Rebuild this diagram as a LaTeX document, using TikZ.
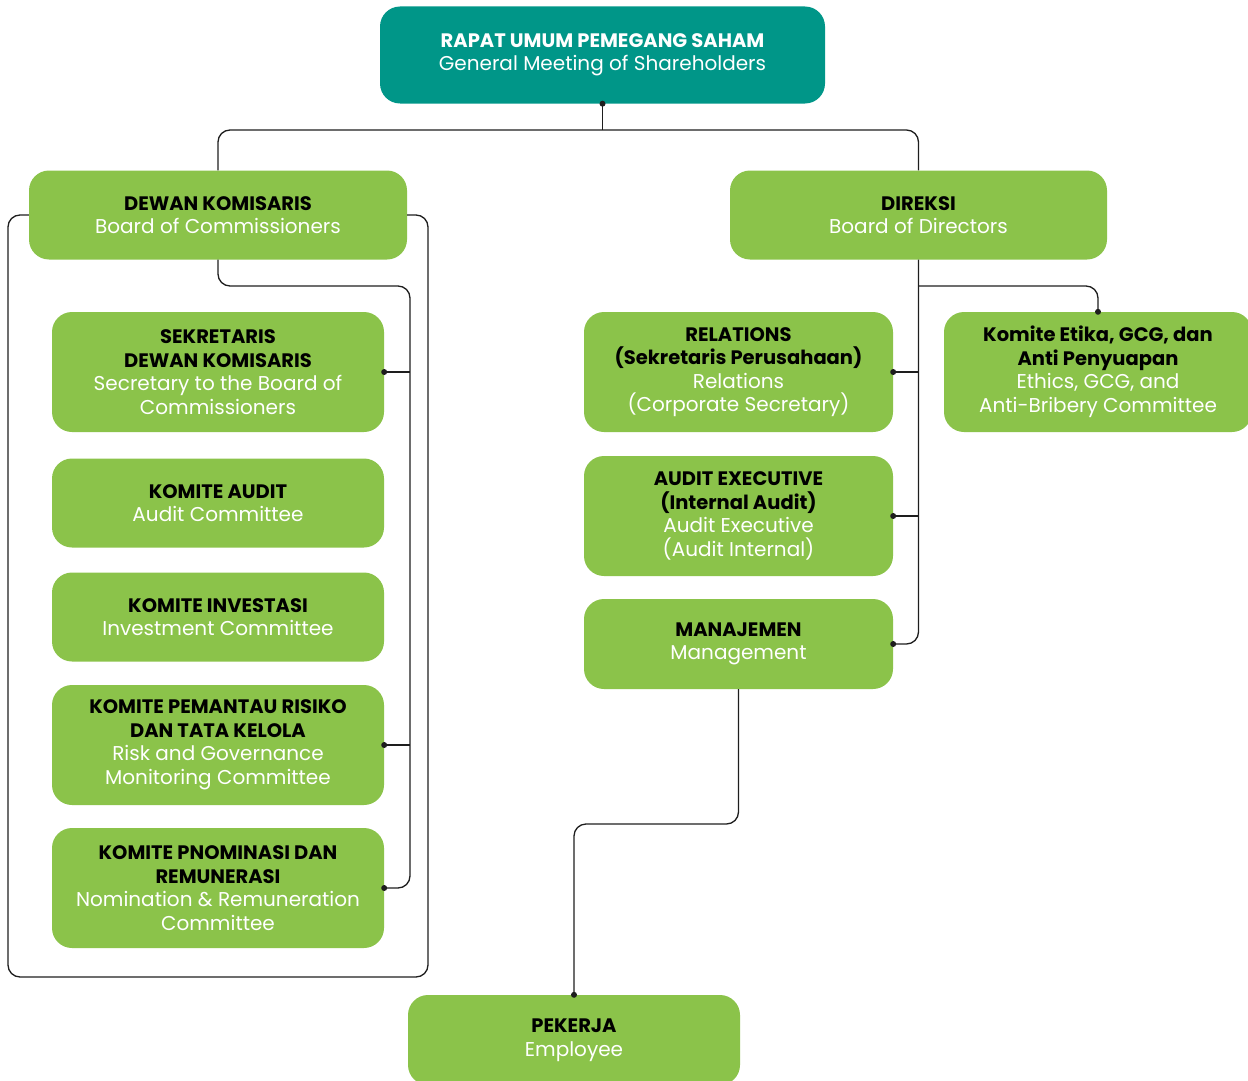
\documentclass[tikz,border=0pt]{standalone}
\usepackage{fontspec}
\setmainfont{Poppins}
\definecolor{boxgreen}{RGB}{139,195,74}
\definecolor{boxteal}{RGB}{0,150,136}
\definecolor{linecol}{RGB}{30,30,30}
\newcommand{\headt}[1]{{\fontsize{19.5}{23.5}\selectfont\bfseries\color{black}#1}}
\newcommand{\subt}[1]{{\color{white}#1}}
\begin{document}
\begin{tikzpicture}[x=1pt,y=-1pt,
  orgbox/.style={rectangle, rounded corners=20pt, fill=boxgreen, align=center, inner sep=0pt,
    font=\fontsize{20}{23.5}\selectfont},
  conn/.style={draw=linecol, line width=1.3pt, rounded corners=12pt},
  dotc/.style={circle, fill=linecol, inner sep=0pt, minimum size=6pt}]
\useasboundingbox (0,0) rectangle (1248,1081);
\clip (0,0) rectangle (1248,1081);

% nodes
\node[orgbox, fill=boxteal, minimum width=445pt, minimum height=97pt] (rups) at (602.5,55)
  {{\fontsize{19.5}{23.5}\selectfont\bfseries\color{white}RAPAT UMUM PEMEGANG SAHAM}\\\subt{General Meeting of Shareholders}};
\node[orgbox, minimum width=378pt, minimum height=89pt] (dk) at (218,215)
  {\headt{DEWAN KOMISARIS}\\\subt{Board of Commissioners}};
\node[orgbox, minimum width=377pt, minimum height=89pt] (dir) at (918.5,215)
  {\headt{DIREKSI}\\\subt{Board of Directors}};
\node[orgbox, minimum width=332pt, minimum height=120pt] (sek) at (218,372)
  {\headt{SEKRETARIS}\\\headt{DEWAN KOMISARIS}\\\subt{Secretary to the Board of}\\\subt{Commissioners}};
\node[orgbox, minimum width=332pt, minimum height=89pt] (aud) at (218,503)
  {\headt{KOMITE AUDIT}\\\subt{Audit Committee}};
\node[orgbox, minimum width=332pt, minimum height=89pt] (inv) at (218,617)
  {\headt{KOMITE INVESTASI}\\\subt{Investment Committee}};
\node[orgbox, minimum width=332pt, minimum height=120pt] (risk) at (218,745)
  {\headt{KOMITE PEMANTAU RISIKO}\\\headt{DAN TATA KELOLA}\\\subt{Risk and Governance}\\\subt{Monitoring Committee}};
\node[orgbox, minimum width=332pt, minimum height=120pt] (nom) at (218,888)
  {\headt{KOMITE PNOMINASI DAN}\\\headt{REMUNERASI}\\\subt{Nomination \& Remuneration}\\\subt{Committee}};
\node[orgbox, minimum width=309pt, minimum height=120pt] (rel) at (738.5,372)
  {\headt{RELATIONS}\\\headt{(Sekretaris Perusahaan)}\\\subt{Relations}\\\subt{(Corporate Secretary)}};
\node[orgbox, minimum width=308pt, minimum height=120pt] (eti) at (1098,372)
  {\headt{Komite Etika, GCG, dan}\\\headt{Anti Penyuapan}\\\subt{Ethics, GCG, and}\\\subt{Anti-Bribery Committee}};
\node[orgbox, minimum width=309pt, minimum height=120pt] (ae) at (738.5,516)
  {\headt{AUDIT EXECUTIVE}\\\headt{(Internal Audit)}\\\subt{Audit Executive}\\\subt{(Audit Internal)}};
\node[orgbox, minimum width=309pt, minimum height=90pt] (man) at (738.5,644)
  {\headt{MANAJEMEN}\\\subt{Management}};
\node[orgbox, minimum width=332pt, minimum height=90pt] (pek) at (574,1040)
  {\headt{PEKERJA}\\\subt{Employee}};

% connectors
\coordinate (top) at (602.5,130);
\draw[conn] (rups.south) -- (top);
\draw[conn] (dk.north) -- (dk.north |- top) -- (dir.north |- top) -- (dir.north);
\node[dotc] at (rups.south) {};

% outer loop around commissioners
\draw[conn] (dk.west) -- (8,215) -- (8,977) -- (428,977) -- (428,215) -- (dk.east);

% inner commissioners line
\coordinate (dkr) at (410,286);
\draw[conn] (dk.south) -- (dk.south |- dkr) -- (dkr) -- (dkr |- nom.east) -- (nom.east);
\draw[conn] (sek.east) -- (sek.east -| dkr);
\draw[conn] (risk.east) -- (risk.east -| dkr);
\node[dotc] at (sek.east) {};
\node[dotc] at (risk.east) {};
\node[dotc] at (nom.east) {};

% directors line
\draw[conn] (dir.south) -- (dir.south |- man.east) -- (man.east);
\draw[conn] (rel.east) -- (rel.east -| dir.south);
\draw[conn] (ae.east) -- (ae.east -| dir.south);
\coordinate (etl) at (918.5,286);
\draw[conn] (etl) -- (eti.north |- etl) -- (eti.north);
\node[dotc] at (rel.east) {};
\node[dotc] at (ae.east) {};
\node[dotc] at (man.east) {};
\node[dotc] at (eti.north) {};

% management to employee
\coordinate (mp) at (738.5,824);
\draw[conn] (man.south) -- (mp) -- (pek.north |- mp) -- (pek.north);
\node[dotc] at (pek.north) {};
\end{tikzpicture}
\end{document}
